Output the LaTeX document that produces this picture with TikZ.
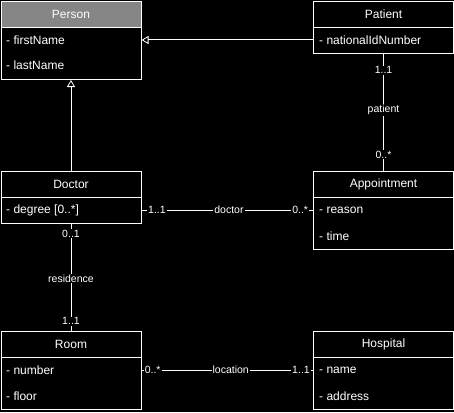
\documentclass[tikz,border=0pt]{standalone}
\usepackage{fontspec}
\setmainfont{Liberation Sans}
\usetikzlibrary{arrows.meta}
\begin{document}
\begin{tikzpicture}[x=1pt,y=-1pt,
  box/.style={draw=white, line width=1pt, fill=black, text=white, inner sep=0pt,
    minimum width=140pt, anchor=north west, font=\fontsize{12}{14}\selectfont},
  hdr/.style={box, minimum height=26pt},
  hdrgray/.style={hdr, fill=gray!95},
  body/.style={box},
  attr/.style={text=white, anchor=west, inner sep=0pt, font=\fontsize{12}{14}\selectfont},
  conn/.style={draw=white, line width=1pt},
  gen/.style={conn, -{Triangle[open, length=7pt, width=8pt, line width=0.8pt]}},
  lbl/.style={fill=black, text=white, inner sep=1pt, font=\fontsize{10.5}{12}\selectfont}]
\fill[black] (0,0) rectangle (454,412);
\useasboundingbox (0,0) rectangle (454,412);

% Person
\node[hdrgray] (perH) at (0.5,1) {Person};
\node[body, minimum height=52pt] (perB) at (0.5,27) {};
\node[attr] (perA1) at (6,40) {- firstName};
\node[attr] (perA2) at (6,65) {- lastName};

% Patient
\node[hdr] (patH) at (313,1) {Patient};
\node[body, minimum height=26pt] (patB) at (313,27) {};
\node[attr] (patA1) at (319,40) {- nationalIdNumber};

% Doctor
\node[hdr] (docH) at (0.5,171) {Doctor};
\node[body, minimum height=26pt] (docB) at (0.5,197) {};
\node[attr] (docA1) at (6,210) {- degree [0..*]};

% Appointment
\node[hdr] (appH) at (313,171) {Appointment};
\node[body, minimum height=52pt] (appB) at (313,197) {};
\node[attr] (appA1) at (319,210) {- reason};
\node[attr] (appA2) at (319,236) {- time};

% Room
\node[hdr] (roomH) at (0.5,331) {Room};
\node[body, minimum height=52pt] (roomB) at (0.5,357) {};
\node[attr] (roomA1) at (6,370) {- number};
\node[attr] (roomA2) at (6,396) {- floor};

% Hospital
\node[hdr] (hosH) at (313,331) {Hospital};
\node[body, minimum height=52pt] (hosB) at (313,357) {};
\node[attr] (hosA1) at (319,370) {- name};
\node[attr] (hosA2) at (319,396) {- address};

% Generalizations
\draw[gen] (patA1.west -| patB.west) -- (patA1.west -| perB.east);
\draw[gen] (docH.north) -- (perB.south);

% patient association
\draw[conn] (patB.south) -- (appH.north)
  node[lbl, pos=0.14] (l1) {1..1}
  node[lbl, pos=0.48] (l2) {patient}
  node[lbl, pos=0.86] (l3) {0..*};

% doctor association
\draw[conn] (docA1.west -| docB.east) -- (docA1.west -| appB.west)
  node[lbl, pos=0.09] (l4) {1..1}
  node[lbl, pos=0.51] (l5) {doctor}
  node[lbl, pos=0.925] (l6) {0..*};

% residence association
\draw[conn] (docB.south) -- (roomH.north)
  node[lbl, pos=0.09] (l7) {0..1}
  node[lbl, pos=0.51] (l8) {residence}
  node[lbl, pos=0.91] (l9) {1..1};

% location association
\draw[conn] (roomA1.west -| roomB.east) -- (roomA1.west -| hosB.west)
  node[lbl, pos=0.065] (l10) {0..*}
  node[lbl, pos=0.52] (l11) {location}
  node[lbl, pos=0.93] (l12) {1..1};
\end{tikzpicture}
\end{document}
